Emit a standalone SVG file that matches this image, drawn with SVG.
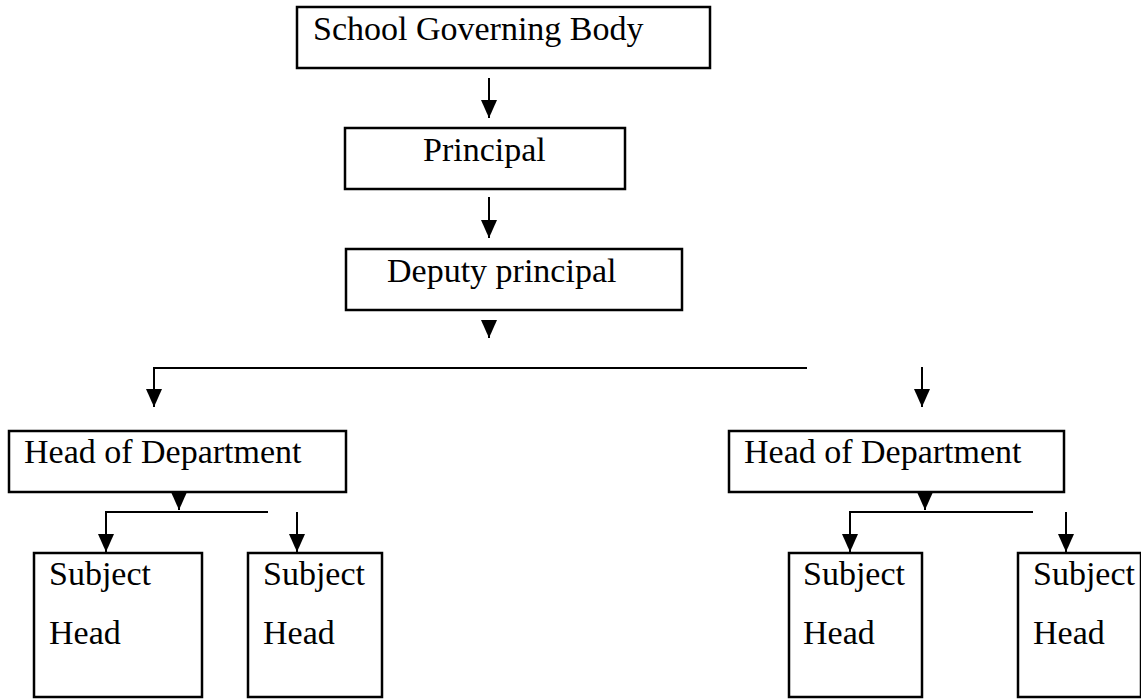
<svg xmlns="http://www.w3.org/2000/svg" width="1141" height="700" viewBox="0 0 1141 700">
<style>
.box{fill:#fff;stroke:#000;stroke-width:2.5}
.t{font-family:"Liberation Serif","Times New Roman",serif;font-size:34px;fill:#000}
.c{fill:none;stroke:#000;stroke-width:2}
</style>
<defs>
<marker id="ah" viewBox="0 0 18 16" markerWidth="18" markerHeight="16" refX="18" refY="8" orient="auto" markerUnits="userSpaceOnUse">
<path d="M0,0 L18,8 L0,16 z" fill="#000"/>
</marker>
</defs>
<rect width="1141" height="700" fill="#fff"/>
<g id="connectors">
<line class="c" x1="489" y1="78" x2="489" y2="118" marker-end="url(#ah)"/>
<line class="c" x1="489" y1="197" x2="489" y2="238" marker-end="url(#ah)"/>
<line class="c" x1="489" y1="320" x2="489" y2="338" marker-end="url(#ah)"/>
<polyline class="c" points="807,368 154,368 154,407" marker-end="url(#ah)"/>
<line class="c" x1="922" y1="367" x2="922" y2="407" marker-end="url(#ah)"/>
<line class="c" x1="179" y1="486" x2="179" y2="510" marker-end="url(#ah)"/>
<polyline class="c" points="268,512 106,512 106,552" marker-end="url(#ah)"/>
<line class="c" x1="297" y1="512" x2="297" y2="552" marker-end="url(#ah)"/>
<line class="c" x1="925" y1="486" x2="925" y2="510" marker-end="url(#ah)"/>
<polyline class="c" points="1033,512 850,512 850,552" marker-end="url(#ah)"/>
<line class="c" x1="1066" y1="512" x2="1066" y2="552" marker-end="url(#ah)"/>
</g>
<g id="sgb"><rect class="box" x="297" y="7" width="413" height="61"/><text class="t" x="313" y="40">School Governing Body</text></g>
<g id="principal"><rect class="box" x="345" y="128" width="280" height="61"/><text class="t" x="423" y="161">Principal</text></g>
<g id="deputy"><rect class="box" x="346" y="249" width="336" height="61"/><text class="t" x="387" y="282">Deputy principal</text></g>
<g id="hod1"><rect class="box" x="9" y="431" width="337" height="61"/><text class="t" x="24" y="463">Head of Department</text></g>
<g id="hod2"><rect class="box" x="729" y="431" width="335" height="61"/><text class="t" x="744" y="463">Head of Department</text></g>
<g id="sh1"><rect class="box" x="34" y="553" width="168" height="144"/><text class="t" x="49" y="585">Subject</text><text class="t" x="49" y="644">Head</text></g>
<g id="sh2"><rect class="box" x="248" y="553" width="134" height="144"/><text class="t" x="263" y="585">Subject</text><text class="t" x="263" y="644">Head</text></g>
<g id="sh3"><rect class="box" x="789" y="553" width="133" height="144"/><text class="t" x="803" y="585">Subject</text><text class="t" x="803" y="644">Head</text></g>
<g id="sh4"><rect class="box" x="1018" y="553" width="123" height="144"/><text class="t" x="1033" y="585">Subject</text><text class="t" x="1033" y="644">Head</text></g>
</svg>
